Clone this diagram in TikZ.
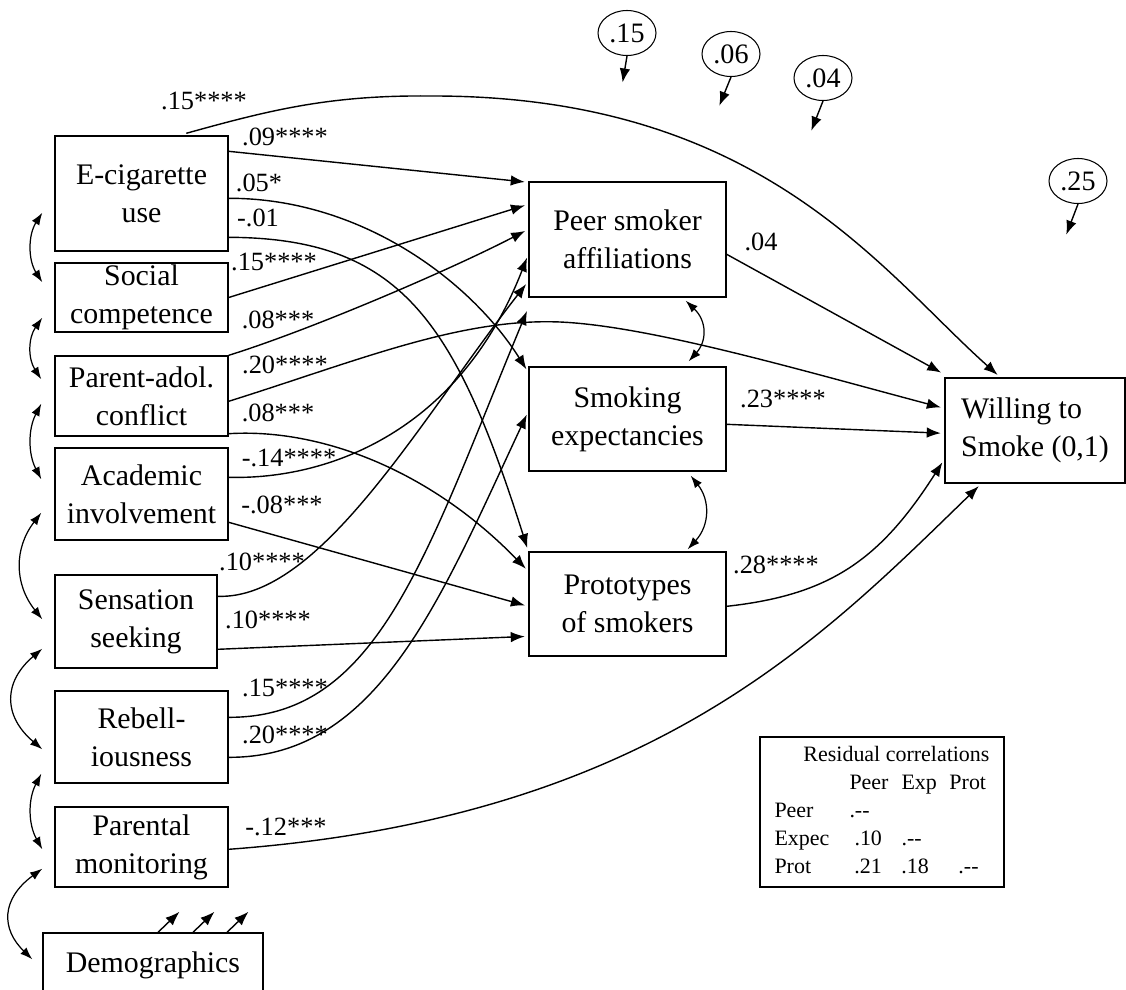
\documentclass[tikz,border=0pt]{standalone}
\usepackage{fontspec}
\setmainfont{Liberation Serif}
\usetikzlibrary{arrows.meta,calc,shapes.geometric}

\begin{document}
\begin{tikzpicture}[
    x=0.02cm, y=-0.02cm,
    line width=0.8pt,
    varbox/.style={draw, rectangle, inner sep=0pt, align=center, minimum width=3.46cm, font=\fontsize{17}{21.5}\selectfont},
    coef/.style={inner sep=0pt, font=\fontsize{15}{18}\selectfont},
    resid/.style={draw, ellipse, line width=0.6pt, inner sep=0pt, minimum width=1.16cm, minimum height=0.9cm, font=\fontsize{16}{18}\selectfont},
    arr/.style={-{Latex[length=8pt,width=6pt]}, shorten >=2pt},
    dbl/.style={{Latex[length=7pt,width=5pt]}-{Latex[length=7pt,width=5pt]}, line width=0.7pt}
]
    \useasboundingbox (0,0) rectangle (1126,990);

    % predictors
    \node [varbox, minimum height=2.3cm] (ecig) at (141.5,193.5) {E-cigarette\\use};
    \node [varbox, minimum height=1.38cm] (social) at (141.5,297.5) {Social\\competence};
    \node [varbox, minimum height=1.6cm] (conflict) at (141.5,396) {Parent-adol.\\conflict};
    \node [varbox, minimum height=1.84cm] (academic) at (141.5,494) {Academic\\involvement};
    \node [varbox, minimum width=3.24cm, minimum height=1.86cm] (sensation) at (136,621.5) {Sensation\\seeking};
    \node [varbox, minimum height=1.84cm] (rebel) at (141.5,737) {Rebell-\\iousness};
    \node [varbox, minimum height=1.6cm] (monitor) at (141.5,847) {Parental\\monitoring};
    \node [varbox, minimum width=4.4cm, minimum height=1.28cm] (demo) at (153,965) {Demographics};

    % mediators and outcome
    \node [varbox, minimum width=3.94cm, minimum height=2.3cm] (peer) at (627.5,239.5) {Peer smoker\\affiliations};
    \node [varbox, minimum width=3.94cm, minimum height=2.08cm] (expect) at (627.5,419) {Smoking\\expectancies};
    \node [varbox, minimum width=3.94cm, minimum height=2.08cm] (proto) at (627.5,604) {Prototypes\\of smokers};
    \node [varbox, align=left, minimum width=3.6cm, minimum height=2.1cm] (willing) at (1035,430.5) {Willing to\\Smoke (0,1)};

    % residual variances
    \node [resid] (r15) at (627,33) {.15};
    \node [resid] (r06) at (731,54) {.06};
    \node [resid] (r04) at (823,78) {.04};
    \node [resid] (r25) at (1078,181) {.25};
    \coordinate (t15) at (622,86);
    \coordinate (t06) at (718,109);
    \coordinate (t04) at (810,134);
    \coordinate (t25) at (1065,238);
    \draw [arr] (r15.south) -- (t15);
    \draw [arr] (r06.south) -- (t06);
    \draw [arr] (r04.south) -- (t04);
    \draw [arr] (r25.south) -- (t25);

    % paths from predictors
    \draw [arr] ($(ecig.north west)+(132,-2)$) .. controls (270,110) and (330,95) .. (430,96)
        .. controls (760,95) and (880,270) .. ($(willing.north west)+(56,0)$);
    \draw [arr] ($(ecig.north east)+(0,16)$) -- ($(peer.north west)+(0,1)$);
    \draw [arr] ($(ecig.north east)+(0,63)$) .. controls (360,198) and (470,280) .. ($(expect.north west)+(0,6)$);
    \draw [arr] ($(ecig.north east)+(0,102)$) .. controls (400,238) and (455,320) .. (proto.north west);
    \draw [arr] (social.east) -- ($(peer.north west)+(0,23)$);
    \draw [arr] (conflict.north east) .. controls (310,330) and (450,270) .. ($(peer.north west)+(0,48)$);
    \draw [arr] ($(conflict.north east)+(0,46)$) .. controls (360,360) and (460,318) .. (560,322)
        .. controls (650,326) and (800,370) .. ($(willing.north west)+(0,31)$);
    \draw [arr] ($(conflict.south east)+(0,-3)$) .. controls (320,428) and (430,470) .. ($(proto.north west)+(0,20)$);
    \draw [arr] ($(academic.north east)+(0,30)$) .. controls (330,480) and (460,430) .. ($(peer.north west)+(0,73)$);
    \draw [arr] ($(academic.north east)+(0,75)$) -- ($(proto.north west)+(0,55)$);
    \draw [arr] ($(sensation.north east)+(0,22)$) .. controls (320,600) and (420,420) .. ($(peer.north west)+(0,100)$);
    \draw [arr] ($(sensation.north east)+(0,75)$) -- ($(proto.north west)+(0,85)$);
    \draw [arr] ($(rebel.north east)+(0,27)$) .. controls (378,718) and (425,557) .. ($(peer.south west)+(0,10)$);
    \draw [arr] ($(rebel.north east)+(0,67)$) .. controls (378,758) and (440,600) .. ($(expect.north west)+(0,45)$);
    \draw [arr] ($(monitor.north east)+(0,43)$) .. controls (650,818) and (820,640) .. ($(willing.south west)+(37,0)$);

    % mediators to outcome
    \draw [arr] ($(peer.north east)+(0,73)$) -- ($(willing.north west)+(0,-3)$);
    \draw [arr] ($(expect.north east)+(0,58)$) -- ($(willing.north west)+(0,56)$);
    \draw [arr] ($(proto.north east)+(0,55)$) .. controls (830,595) and (880,560) .. ($(willing.north west)+(0,82)$);

    % demographics
    \draw [arr] ($(demo.north)+(5,0)$) -- ($(demo.north)+(29,-23)$);
    \draw [arr] ($(demo.north)+(40,0)$) -- ($(demo.north)+(64,-23)$);
    \draw [arr] ($(demo.north)+(74,0)$) -- ($(demo.north)+(98,-23)$);

    % correlations
    \draw [dbl] ($(ecig.south west)+(-12,-39)$) .. controls (28,235) and (28,260) .. ($(social.north west)+(-12,20)$);
    \draw [dbl] ($(social.south west)+(-12,-15)$) .. controls (28,338) and (28,359) .. ($(conflict.north west)+(-13,24)$);
    \draw [dbl] ($(conflict.south west)+(-13,-33)$) .. controls (28,429) and (28,454) .. ($(academic.north west)+(-13,32)$);
    \draw [dbl] ($(academic.south west)+(-13,-28)$) .. controls (14,548) and (14,584) .. ($(sensation.north west)+(-12,45)$);
    \draw [dbl] ($(sensation.south west)+(-12,-20)$) .. controls (3,682) and (3,716) .. ($(rebel.north west)+(-12,59)$);
    \draw [dbl] ($(rebel.south west)+(-13,-10)$) .. controls (28,799) and (28,824) .. ($(monitor.north west)+(-12,43)$);
    \draw [dbl] ($(monitor.south west)+(-12,-19)$) .. controls (1,899) and (1,929) .. ($(demo.north west)+(-10,27)$);
    \draw [dbl] ($(peer.south east)+(-41,3)$) .. controls (707,321) and (707,341) .. ($(expect.north east)+(-38,-5)$);
    \draw [dbl] ($(expect.south east)+(-36,4)$) .. controls (710,500) and (710,525) .. ($(proto.north east)+(-39,-2)$);

    % coefficients
    \node [coef] (c1) at (204,101) {.15****};
    \node [coef] (c2) at (285,137) {.09****};
    \node [coef] (c3) at (259,183) {.05*};
    \node [coef] (c4) at (258,218) {-.01};
    \node [coef] (c5) at (274,262) {.15****};
    \node [coef] (c6) at (278,320) {.08***};
    \node [coef] (c7) at (285,365) {.20****};
    \node [coef] (c8) at (278,413) {.08***};
    \node [coef] (c9) at (289,458) {-.14****};
    \node [coef] (c10) at (282,505) {-.08***};
    \node [coef] (c11) at (262,562) {.10****};
    \node [coef] (c12) at (268,620) {.10****};
    \node [coef] (c13) at (285,688) {.15****};
    \node [coef] (c14) at (285,735) {.20****};
    \node [coef] (c15) at (286,827) {-.12***};
    \node [coef] (c16) at (761,242) {.04};
    \node [coef] (c17) at (783,399) {.23****};
    \node [coef] (c18) at (776,565) {.28****};

    % residual correlations table
    \node [draw, inner sep=0pt, minimum width=4.88cm, minimum height=3cm, font=\fontsize{12.5}{15.9}\selectfont] (corr) at (882,812)
        {\begin{tabular}{@{}p{1.5cm}@{}p{1.04cm}@{}p{0.96cm}@{}p{0.8cm}@{}}
        \multicolumn{4}{@{}r@{}}{Residual correlations}\\
        & Peer & Exp & Prot\\
        Peer & .-{}- & & \\
        Expec & \hspace{0.1cm}.10 & .-{}- & \\
        Prot & \hspace{0.1cm}.21 & .18 & \hspace{0.18cm}.-{}-
        \end{tabular}};
\end{tikzpicture}
\end{document}
